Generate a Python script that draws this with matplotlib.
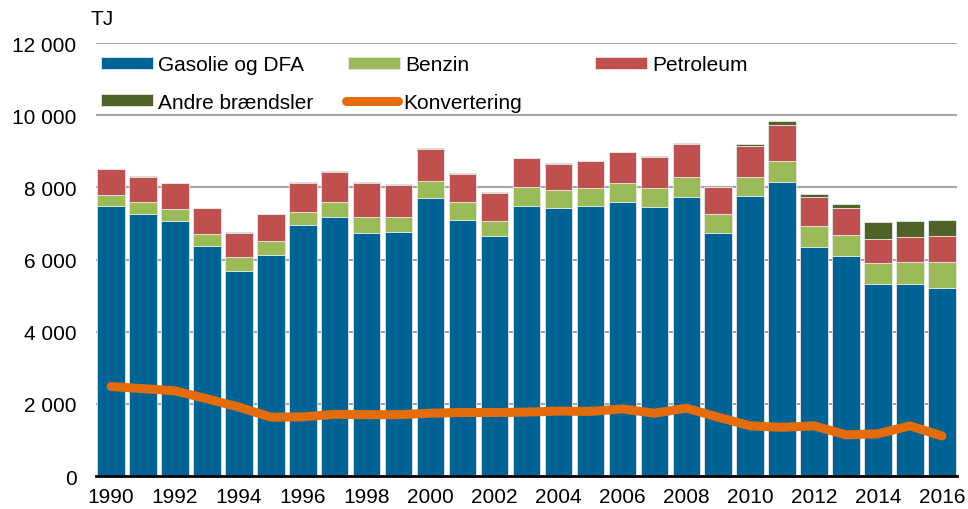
"""
Energiforbrug fordelt på brændsler, 1990-2016 (TJ).
"""
import numpy as np
import matplotlib.pyplot as plt
from matplotlib.ticker import FuncFormatter

# ── Data ──────────────────────────────────────────────
years = list(range(1990, 2017))

gasolie = [7480, 7260, 7060, 6380, 5690, 6130, 6950, 7180, 6740, 6760,
           7700, 7090, 6650, 7480, 7430, 7470, 7590, 7450, 7730, 6730,
           7760, 8150, 6340, 6110, 5310, 5330, 5220]
benzin = [320, 320, 330, 340, 370, 370, 360, 400, 430, 410,
          470, 490, 430, 520, 490, 500, 530, 540, 560, 520,
          530, 570, 590, 580, 590, 590, 700]
petroleum = [700, 720, 720, 700, 680, 750, 810, 840, 960, 890,
             900, 800, 770, 800, 740, 750, 850, 860, 910, 750,
             850, 1020, 810, 730, 670, 690, 730]
andre = [20, 20, 20, 20, 20, 20, 20, 20, 20, 20,
         20, 20, 20, 20, 20, 20, 20, 20, 20, 20,
         55, 90, 65, 130, 460, 460, 450]
konvertering = [2480, 2420, 2360, 2140, 1910, 1630, 1640, 1710, 1700, 1700,
                1740, 1760, 1760, 1770, 1800, 1790, 1860, 1740, 1880, 1630,
                1390, 1350, 1390, 1140, 1170, 1390, 1110]

# ── Farver ────────────────────────────────────────────
C_GAS = "#006395"
C_BENZ = "#9bbb59"
C_PETRO = "#c0504d"
C_ANDRE = "#4f6228"
C_KONV = "#e46c0a"
FS = 15

plt.rcParams["font.family"] = ["Liberation Sans", "DejaVu Sans"]

fig = plt.figure(figsize=(9.68, 5.10), dpi=100)
ax = fig.add_axes([0.0992, 0.0647, 0.8894, 0.849])

x = np.arange(len(years))
w = 0.86
gas = np.array(gasolie)
benz = np.array(benzin)
petro = np.array(petroleum)
andr = np.array(andre)

edge = dict(edgecolor="#e6e6e6", linewidth=0.6)
h_gas = ax.bar(x, gas, w, color=C_GAS, label="Gasolie og DFA", zorder=2, **edge)
h_benz = ax.bar(x, benz, w, bottom=gas, color=C_BENZ, label="Benzin", zorder=2, **edge)
h_petro = ax.bar(x, petro, w, bottom=gas + benz, color=C_PETRO, label="Petroleum",
                 zorder=2, **edge)
h_andre = ax.bar(x, andr, w, bottom=gas + benz + petro, color=C_ANDRE,
                 label="Andre brændsler", zorder=2, **edge)
h_konv, = ax.plot(x, konvertering, color=C_KONV, linewidth=6.5,
                  solid_capstyle="round", solid_joinstyle="round",
                  label="Konvertering", zorder=3)

ax.set_xlim(-0.47, len(years) - 0.53)
ax.set_ylim(0, 12000)
ax.set_yticks(range(0, 12001, 2000))
ax.yaxis.set_major_formatter(FuncFormatter(lambda v, p: f"{int(v):,}".replace(",", " ")))
ax.set_xticks(x[::2])
ax.set_xticklabels([str(y) for y in years[::2]])

ax.grid(axis="y", color="#a6a6a6", linewidth=1.5, zorder=0)
ax.set_axisbelow(True)
for s in ["top", "right", "left"]:
    ax.spines[s].set_visible(False)
ax.spines["bottom"].set_color("black")
ax.spines["bottom"].set_linewidth(2)
ax.spines["bottom"].set_zorder(4)
ax.tick_params(axis="both", length=0, labelsize=FS)
ax.tick_params(axis="y", pad=14)
ax.tick_params(axis="x", pad=8)

fig.text(0.093, 0.962, "TJ", fontsize=FS, ha="left", va="center")

# legend: one entry per slot so the columns line up like the original
slots = [
    (h_gas, 0.1043, 0.8706),
    (h_benz, 0.3595, 0.8706),
    (h_petro, 0.6147, 0.8706),
    (h_andre, 0.1043, 0.798),
    (h_konv, 0.3575, 0.798),
]
for h, lx, ly in slots:
    fig.legend(handles=[h], labels=[h.get_label()], loc="center left",
               bbox_to_anchor=(lx, ly), frameon=False, fontsize=FS,
               handlelength=2.5, handleheight=0.55, handletextpad=0.25,
               borderpad=0.0, borderaxespad=0.0)

fig.savefig("out.png", dpi=100)
